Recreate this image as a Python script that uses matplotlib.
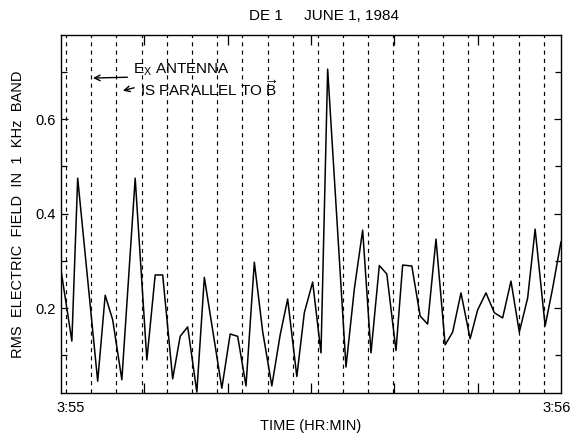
import matplotlib
matplotlib.use("Agg")
import matplotlib.pyplot as plt
import matplotlib.transforms as mtransforms
from matplotlib.ticker import FixedLocator

plt.rcParams['font.family'] = ['Liberation Sans', 'DejaVu Sans']
plt.rcParams['mathtext.default'] = 'regular'

# time in seconds after 3:55:00
time_s = [0.0, 1.3, 2.0, 4.4, 5.3, 6.2, 7.3, 8.9, 10.3, 11.3, 12.2, 13.4, 14.3,
          15.2, 16.3, 17.2, 19.3, 20.3, 21.2, 22.2, 23.2, 24.2, 25.3, 26.3,
          27.2, 28.3, 29.2, 30.2, 31.2, 32.0, 34.2, 35.2, 36.2, 37.2, 38.2,
          39.1, 40.2, 41.0, 42.1, 43.1, 44.0, 45.0, 46.1, 47.0, 48.0, 49.1,
          50.0, 51.0, 52.0, 53.0, 54.0, 55.0, 56.0, 56.9, 58.1, 59.0, 60.0]
rms_field = [0.28, 0.13, 0.475, 0.045, 0.227, 0.175, 0.048, 0.475, 0.09, 0.27,
             0.27, 0.05, 0.14, 0.16, 0.022, 0.265, 0.03, 0.145, 0.14, 0.035,
             0.297, 0.15, 0.035, 0.143, 0.219, 0.055, 0.19, 0.255, 0.105,
             0.706, 0.075, 0.24, 0.365, 0.105, 0.29, 0.272, 0.11, 0.291, 0.289,
             0.183, 0.166, 0.346, 0.122, 0.149, 0.232, 0.135, 0.196, 0.232,
             0.19, 0.179, 0.257, 0.149, 0.221, 0.367, 0.162, 0.242, 0.34]

# times when Ex antenna is parallel to B (dashed lines)
parallel_times = [0.6, 3.6, 6.6, 9.7, 12.7, 15.7, 18.7, 21.7, 24.8, 27.8,
                  30.8, 33.8, 36.8, 39.9, 42.9, 45.9, 48.9, 51.9, 55.0, 58.0]

x_tick_pos = [0, 60]
x_tick_labels = ["3:55", "3:56"]
y_tick_pos = [0.2, 0.4, 0.6]
y_tick_labels = ["0.2", "0.4", "0.6"]

fig = plt.figure(figsize=(5.73, 4.34), dpi=100)
ax = fig.add_axes([0.1065, 0.0945, 0.8725, 0.8245])

for t in parallel_times:
    ax.axvline(t, color='black', lw=0.85, linestyle=(0, (3.5, 3.5)))

ax.plot(time_s, rms_field, color='black', lw=1.1)

ax.set_xlim(0, 60)
ax.set_ylim(0.02, 0.778)

ax.set_xticks(x_tick_pos)
ax.set_xticklabels(["", ""])
ax.xaxis.set_minor_locator(FixedLocator([10, 20, 30, 40, 50]))
ax.set_yticks(y_tick_pos)
ax.set_yticklabels(y_tick_labels)
ax.yaxis.set_minor_locator(FixedLocator([0.1, 0.3, 0.5, 0.7]))

ax.tick_params(axis='both', which='both', direction='in', top=True, right=True,
               labelsize=10.5, width=0.9)
ax.tick_params(axis='x', which='major', length=0, pad=6)
ax.tick_params(axis='x', which='minor', length=7)
ax.tick_params(axis='y', which='major', length=5)
ax.tick_params(axis='y', which='minor', length=4)

# x tick labels, placed as in the reference (first shifted right, last kept inside)
xtr = ax.get_xaxis_transform()
off1 = mtransforms.offset_copy(xtr, fig=fig, x=10, y=-8, units='dots')
off2 = mtransforms.offset_copy(xtr, fig=fig, x=10, y=-8, units='dots')
ax.text(x_tick_pos[0], 0, x_tick_labels[0], transform=off1, ha='center', va='top', fontsize=10.5)
ax.text(x_tick_pos[1], 0, x_tick_labels[1], transform=off2, ha='right', va='top', fontsize=10.5)

for s in ax.spines.values():
    s.set_linewidth(1.0)

ax.set_xlabel("TIME (HR:MIN)", fontsize=10.5)
ax.xaxis.set_label_coords(0.5, -0.072)
ax.set_ylabel("RMS  ELECTRIC  FIELD  IN  1  KHz  BAND", fontsize=10.5, labelpad=8)
fig.text(0.565, 0.963, "DE 1     JUNE 1, 1984", ha='center', va='center', fontsize=11)

ax.text(8.6, 0.705, r"E$_X$ ANTENNA", fontsize=11, ha='left', va='center')
ax.text(9.5, 0.663, r"IS PARALLEL TO $\overrightarrow{B}$", fontsize=11, ha='left', va='center')
ax.annotate("", xy=(3.5, 0.687), xytext=(8.3, 0.689),
            arrowprops=dict(arrowstyle='->', color='black', lw=1.0))
ax.annotate("", xy=(7.1, 0.659), xytext=(9.1, 0.668),
            arrowprops=dict(arrowstyle='->', color='black', lw=1.0))

fig.savefig("out.png", dpi=100)
